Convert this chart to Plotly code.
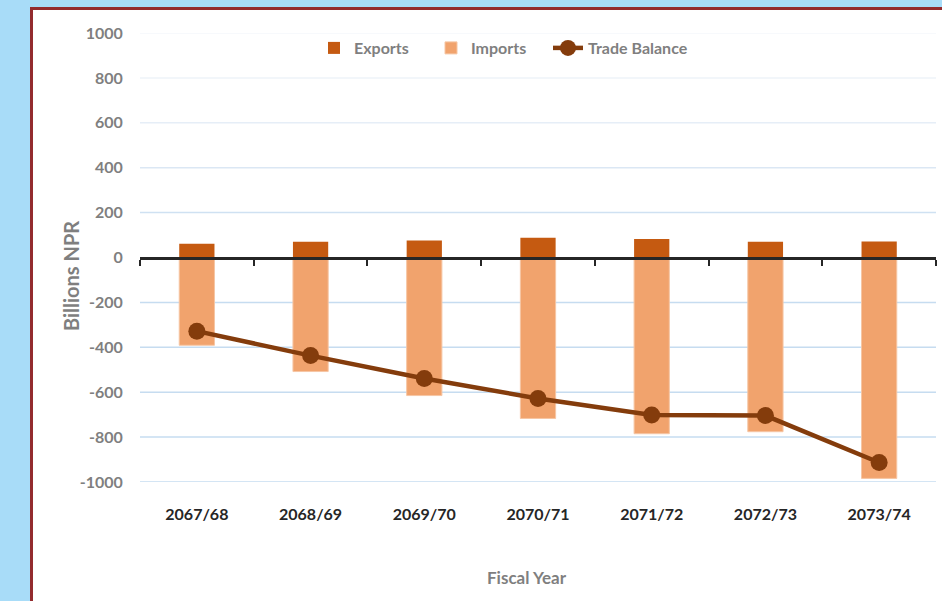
import plotly.graph_objects as go

# ---- data (Billions NPR) ----
fiscal_years = ["2067/68", "2068/69", "2069/70", "2070/71", "2071/72", "2072/73", "2073/74"]
exports = [61, 70, 76, 88, 82, 70, 71]
imports = [-391, -508, -615, -717, -785, -776, -984]
trade_balance = [-328, -437, -539, -628, -702, -704, -913]
y_ticks = [-1000, -800, -600, -400, -200, 0, 200, 400, 600, 800, 1000]
y_tick_labels = ["-1000", "-800", "-600", "-400", "-200", "0", "200", "400", "600", "800", "1000"]

# ---- styles ----
W, H = 942, 601
PLOT_L, PLOT_R, PLOT_T, PLOT_B = 140, 936, 33, 482  # page pixels
ML, MR, MT, MB = PLOT_L, W - PLOT_R, PLOT_T, H - PLOT_B
PW, PH = W - ML - MR, H - MT - MB
FONT = "Lato"
GREY = "#7f7f7f"
BLUE_BG = "#a8dcf8"
C_EXP = "#c55a11"
C_IMP = "#f1a36d"
C_TB = "#843c0c"
grid_colors = {1000: "#f4f7fb", 800: "#eef3f9", 600: "#e6eef7", 400: "#dbe7f4", 200: "#cfe1f2"}
LEGEND_FONT = dict(family=FONT, size=16, color=GREY, weight="bold")


def px_x(p):
    return (p - ML) / PW


def px_y(p):
    return (H - MB - p) / PH


fig = go.Figure()
fig.add_trace(go.Bar(name="Exports", x=fiscal_years, y=exports, legend="legend",
                     marker=dict(color=C_EXP, line=dict(width=0))))
fig.add_trace(go.Bar(name="Imports", x=fiscal_years, y=imports, legend="legend",
                     marker=dict(color=C_IMP, line=dict(color="#f6c6a4", width=1))))
fig.add_trace(go.Scatter(name="Trade Balance", x=fiscal_years, y=trade_balance, mode="lines+markers",
                         legend="legend2",
                         line=dict(color=C_TB, width=4.5), marker=dict(color=C_TB, size=17)))
# helper trace so the zero-line axis (x2) is drawn
fig.add_trace(go.Scatter(x=fiscal_years, y=[None] * len(fiscal_years), xaxis="x2", showlegend=False,
                         hoverinfo="skip", mode="markers"))

shapes = [
    # white panel with dark red border
    dict(type="rect", xref="paper", yref="paper", x0=px_x(31.5), x1=px_x(960), y0=px_y(8.5), y1=px_y(620),
         fillcolor="white", line=dict(color="#932b2e", width=3), layer="below"),
]
for v in y_ticks:
    if v == 0:
        continue
    shapes.append(dict(type="line", xref="paper", yref="y", x0=0, x1=1, y0=v, y1=v,
                       line=dict(color=grid_colors.get(v, "#c6dcf0"), width=1.5), layer="below"))

fig.update_layout(
    width=W, height=H,
    margin=dict(l=ML, r=MR, t=MT, b=MB, pad=0),
    paper_bgcolor=BLUE_BG,
    plot_bgcolor="rgba(0,0,0,0)",
    barmode="relative",
    bargap=0.69,
    font=dict(family=FONT, color=GREY),
    showlegend=True,
    legend=dict(orientation="h", x=px_x(314), xanchor="left", y=px_y(48), yanchor="middle",
                bgcolor="rgba(0,0,0,0)", font=LEGEND_FONT,
                itemwidth=30, tracegroupgap=0, entrywidth=72, entrywidthmode="pixels"),
    legend2=dict(orientation="h", x=px_x(548), xanchor="left", y=px_y(48), yanchor="middle",
                 bgcolor="rgba(0,0,0,0)", font=LEGEND_FONT, itemwidth=30),
    xaxis=dict(type="category", categoryarray=fiscal_years, range=[-0.5, 6.5], showgrid=False,
               showline=False, zeroline=False, ticks="outside", ticklen=18, tickcolor="rgba(0,0,0,0)",
               tickfont=dict(family=FONT, size=16, color="#262626", weight="bold")),
    xaxis2=dict(type="category", categoryarray=fiscal_years, range=[-0.5, 6.5], overlaying="x",
                anchor="free", position=0.5, side="bottom", showgrid=False, zeroline=False,
                showline=True, linecolor="#262626", linewidth=3, ticks="outside", tickson="boundaries",
                ticklen=6, tickwidth=2, tickcolor="#262626", showticklabels=False),
    yaxis=dict(range=[-1000, 1000], tickvals=y_ticks, ticktext=y_tick_labels, showgrid=False,
               zeroline=False, showline=False,
               ticks="outside", ticklen=13, tickcolor="rgba(0,0,0,0)",
               tickfont=dict(family=FONT, size=16, color=GREY, weight="bold")),
    shapes=shapes,
    annotations=[
        dict(text="Billions NPR", xref="paper", yref="paper", x=px_x(71), y=px_y(276), textangle=-90,
             showarrow=False, xanchor="center", yanchor="middle",
             font=dict(family=FONT, size=20, color=GREY, weight="bold")),
        dict(text="Fiscal Year", xref="paper", yref="paper", x=px_x(527), y=px_y(577), showarrow=False,
             xanchor="center", yanchor="middle", font=dict(family=FONT, size=17, color=GREY, weight="bold")),
    ],
)

fig.write_html("out.html", config={"displayModeBar": False},
               post_script="document.body.style.margin='0';document.body.style.backgroundColor='%s';" % BLUE_BG)
